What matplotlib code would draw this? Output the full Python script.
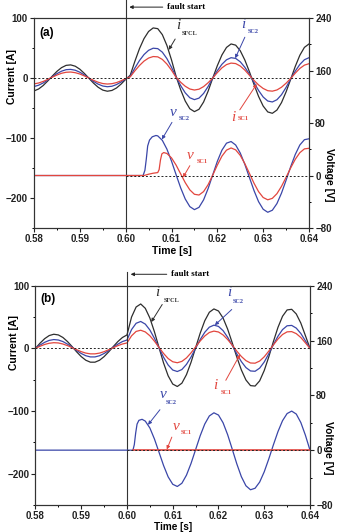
import numpy as np
import matplotlib
matplotlib.use('Agg')
import matplotlib.pyplot as plt
from matplotlib.ticker import MultipleLocator

plt.rcParams['font.family'] = 'Liberation Sans'
plt.rcParams['font.weight'] = 'bold'
plt.rcParams['axes.labelweight'] = 'bold'

t_fault = 0.60
t = np.arange(580, 641) / 1000.0   # sample times [s], 1 ms step

# ---- (a) currents [A], every 1 ms
i_sfcl_a = [-21.5, -18.3, -12.5, -4.9, 3.3, 11.1, 17.3, 21.1, 21.9, 19.7, 14.7, 7.6, -0.5, -8.6, -15.4, -20.1, -22.0, -20.7, -16.6, -10.1, -2.2,
            4.7, 27.7, 48.7, 65.7, 77.6, 83.5, 82.3, 72.3, 54.3, 30.2, 2.8,
            -19.6, -38.4, -51.2, -56.0, -52.1, -40.0, -21.7, 0.0,
            20.6, 38.4, 51.0, 56.8, 54.8, 45.5, 30.0, 10.5,
            -10.7, -30.7, -46.7, -56.5, -58.8, -53.4, -41.0, -23.1, -2.2,
            19.3, 37.9, 51.1, 56.8]
i_sc2_a = [-14.2, -12.0, -8.2, -3.3, 2.2, 7.3, 11.4, 13.9, 14.4, 13.0, 9.7, 5.0, -0.3, -5.7, -10.2, -13.3, -14.5, -13.7, -10.9, -6.7, -1.5,
           2.8, 16.5, 29.0, 39.1, 46.2, 49.7, 49.0, 43.1, 32.3, 18.0, 1.7,
           -12.6, -24.7, -32.9, -36.0, -33.5, -25.7, -14.0, 0.0,
           12.3, 22.9, 30.4, 33.9, 32.7, 27.1, 17.9, 6.3,
           -7.3, -20.8, -31.6, -38.3, -39.9, -36.2, -27.8, -15.6, -1.5,
           11.5, 22.6, 30.5, 33.9]
i_sc1_a = [-9.8, -8.3, -5.7, -2.3, 1.5, 5.0, 7.9, 9.6, 10.0, 8.9, 6.7, 3.5, -0.2, -3.9, -7.0, -9.2, -10.0, -9.4, -7.6, -4.6, -1.0,
           2.0, 11.9, 20.8, 28.2, 33.3, 35.8, 35.3, 31.0, 23.3, 13.0, 1.2,
           -7.0, -13.7, -18.3, -20.0, -18.6, -14.3, -7.8, 0.0,
           9.0, 16.9, 22.4, 24.9, 24.1, 20.0, 13.2, 4.6,
           -4.0, -11.5, -17.4, -21.1, -21.9, -19.9, -15.3, -8.6, -0.8,
           8.1, 16.0, 21.5, 23.9]

# ---- (a) voltages [V]
tv_sc2_a = [0.580, 0.6038, 0.6042, 0.6045, 0.6048, 0.6052, 0.6058, 0.6066] + list(np.arange(607, 641) / 1000.0)
v_sc2_a = [0, 0, 8, 25, 45, 54, 59, 61,
           60.4, 53.6, 40.2, 22.0, 1.3, -18.8, -35.8, -47.4, -52.0,
           -48.5, -37.1, -19.7, 1.1, 21.6, 38.6, 49.3,
           51.8, 46.5, 34.3, 17.0, -3.0, -22.9, -39.9, -51.4, -56.0,
           -52.9, -42.8, -26.8, -7.2, 13.4, 32.0, 46.5, 54.6, 56.0]
tv_sc1_a = [0.580, 0.6040, 0.605, 0.606, 0.607, 0.6073, 0.6076, 0.6079, 0.6083] + list(np.arange(609, 641) / 1000.0)
v_sc1_a = [0, 0, 2.0, 3.5, 4.5, 9, 24, 33, 35,
           33.6, 26.9, 15.9, 2.5, -10.9, -21.9, -28.6,
           -29.7, -24.5, -13.8, 0.6, 15.9, 29.5, 38.7, 42.0,
           39.1, 30.7, 18.1, 3.3, -11.7, -24.6, -33.5, -37.0,
           -34.8, -27.7, -16.5, -2.8, 11.6, 24.7, 34.8, 40.6, 41.5]

# ---- (b) currents [A]
i_sfcl_b = [0.0, 8.3, 15.4, 20.4, 22.5, 21.4, 17.3, 10.8, 2.8, -5.6, -13.2, -19.0, -22.1, -22.1, -19.0, -13.2, -5.6, 2.8, 10.8, 17.3, 21.4,
            50.0, 66.0, 70.8, 63.9, 48.4, 26.4, 1.2, -23.5, -43.9, -57.0,
            -60.9, -55.6, -42.0, -22.3, 1.0, 24.2, 44.0, 57.6, 62.9,
            59.6, 48.4, 30.7, 9.0, -13.8, -34.5, -50.5, -59.5,
            -60.2, -51.9, -35.4, -13.5, 10.7, 33.4, 51.2, 61.3,
            62.3, 54.9, 40.3, 20.3, 0.0]
i_sc2_b = [0.0, 5.2, 9.6, 12.7, 14.0, 13.3, 10.8, 6.7, 1.8, -3.5, -8.2, -11.8, -13.7, -13.7, -11.8, -8.2, -3.5, 1.8, 6.7, 10.8, 13.3,
           30.0, 40.0, 42.9, 38.7, 29.3, 16.0, 0.7, -14.3, -26.6, -34.6,
           -37.0, -33.8, -25.6, -13.9, 0.0, 13.9, 25.6, 33.8, 37.0,
           35.0, 28.3, 17.7, 4.8, -8.8, -21.2, -30.7, -36.1,
           -36.6, -31.6, -21.8, -8.6, 5.8, 19.3, 29.9, 36.0,
           36.6, 32.3, 23.7, 11.9, 0.0]
i_sc1_b = [0.0, 3.3, 6.2, 8.1, 9.0, 8.6, 6.9, 4.3, 1.1, -2.2, -5.3, -7.6, -8.8, -8.8, -7.6, -5.3, -2.2, 1.1, 4.3, 6.9, 8.6,
           20.0, 27.0, 28.9, 26.2, 20.1, 11.4, 1.5, -8.2, -16.3, -21.4,
           -23.0, -20.8, -15.3, -7.2, 2.3, 11.7, 19.7, 25.3, 27.5,
           26.1, 21.4, 14.1, 5.1, -4.4, -13.0, -19.6, -23.4,
           -23.7, -20.3, -13.5, -4.4, 5.5, 14.8, 22.1, 26.3,
           26.7, 23.5, 17.3, 8.7, 0.0]

# ---- (b) voltages [V]
tv_sc2_b = [0.580, 0.6013, 0.6016, 0.6019, 0.6022, 0.6026, 0.6033] + list(np.arange(604, 641) / 1000.0)
v_sc2_b = [0, 0, 8, 25, 38, 43.5, 45,
           42.4, 32.4, 16.3, -3.0, -22.5, -39.0, -49.8,
           -53.0, -48.3, -36.5, -19.4, 0.8, 21.0, 38.1, 49.9, 54.5,
           51.2, 40.0, 22.6, 1.6, -19.9, -38.7, -52.0, -57.8,
           -55.6, -46.6, -31.6, -12.7, 7.7, 27.0, 43.0, 53.4, 57.0,
           52.7, 40.3, 21.8, 0.0]
tv_sc1_b = [0.6013, 0.640]
v_sc1_b = [0, 0]

c_blk = '#2e2e2e'
c_blue = '#3a46a8'
c_red = '#e2463e'
lw = 0.9

fig = plt.figure(figsize=(3.38, 5.32), dpi=100)


def style_axes(ax, ax2):
    ax.set_xlim(0.58, 0.64)
    ax.set_ylim(-250, 100)
    ax2.set_ylim(-80, 240)
    ax.set_xticks([0.58, 0.59, 0.60, 0.61, 0.62, 0.63, 0.64])
    ax.set_xticklabels(['0.58', '0.59', '0.60', '0.61', '0.62', '0.63', '0.64'])
    ax.xaxis.set_minor_locator(MultipleLocator(0.005))
    ax.set_yticks([100, 0, -100, -200])
    ax.yaxis.set_minor_locator(MultipleLocator(50))
    ax2.set_yticks([240, 160, 80, 0, -80])
    ax2.yaxis.set_minor_locator(MultipleLocator(40))
    for a in (ax, ax2):
        a.tick_params(which='major', direction='out', length=3, width=0.8, pad=1.5, labelsize=7, colors='#222222')
        a.tick_params(which='minor', direction='out', length=1.6, width=0.7)
        for s in a.spines.values():
            s.set_linewidth(0.8)
            s.set_color('#333333')


def tag(ax, sym, sub, p_sym, p_sub, tail, tip, color):
    ax.text(p_sym[0], p_sym[1], sym, family='Liberation Serif', style='italic', weight='normal',
            fontsize=11, color=color, ha='center', va='center')
    ax.text(p_sub[0], p_sub[1], sub, family='Liberation Serif', weight='bold',
            fontsize=4.5, color=color, ha='center', va='center')
    ax.annotate('', xy=tip, xytext=tail,
                arrowprops=dict(arrowstyle='-|>', color=color, lw=0.7, mutation_scale=5, shrinkA=0, shrinkB=0))


# ================= (a)
ax = fig.add_axes([0.1006, 0.5714, 0.8136, 0.3947])
ax2 = ax.twinx()
style_axes(ax, ax2)

ax.plot(t, i_sfcl_a, color=c_blk, lw=lw)
ax.plot(t, i_sc2_a, color=c_blue, lw=lw)
ax.plot(t, i_sc1_a, color=c_red, lw=lw)
ax.axhline(0, color='#222222', lw=0.7, ls=(0, (2, 2)), zorder=3)
ax2.plot(tv_sc2_a, v_sc2_a, color=c_blue, lw=lw)
ax2.plot(tv_sc1_a, v_sc1_a, color=c_red, lw=lw)
ax2.hlines(0, t_fault, 0.64, color='#222222', lw=0.7, linestyles=(0, (2, 2)), zorder=3)
ax.axvline(t_fault, ymin=0, ymax=1.086, color='#333333', lw=0.8, clip_on=False)

ax.annotate('fault start', xy=(0.6008, 1.052), xycoords=('data', 'axes fraction'),
            xytext=(0.6090, 1.052), textcoords=('data', 'axes fraction'),
            ha='left', va='center', family='Liberation Serif', fontsize=6.5, weight='bold',
            arrowprops=dict(arrowstyle='-|>', color='#222222', lw=0.7, mutation_scale=5, shrinkA=1, shrinkB=0))

ax.text(0.018, 0.929, '(a)', transform=ax.transAxes, fontsize=8.5, ha='left', va='center')
ax.set_ylabel('Current [A]', fontsize=7.5, va='center')
ax.yaxis.set_label_coords(-0.08, 0.72)
ax.set_xlabel('Time [s]', fontsize=7.5, va='center')
ax.xaxis.set_label_coords(0.5, -0.11)
ax2.set_ylabel('Voltage [V]', fontsize=7.5, rotation=270, va='center')
ax2.yaxis.set_label_coords(1.073, 0.252)

tag(ax, 'i', 'SFCL', (0.6114, 88), (0.6140, 74), (0.6108, 65), (0.6094, 47), c_blk)
tag(ax, 'i', 'SC2', (0.6256, 90), (0.6278, 78), (0.6260, 68), (0.6239, 33), c_blue)
tag(ax, 'i', 'SC1', (0.6234, -65), (0.6256, -68), (0.6249, -53), (0.6286, -10), c_red)
tag(ax2, 'v', 'SC2', (0.6103, 96), (0.6127, 87), (0.6101, 81), (0.6079, 55), c_blue)
tag(ax2, 'v', 'SC1', (0.6140, 30), (0.6167, 21), (0.6140, 15), (0.6125, -3), c_red)

# ================= (b)
ax = fig.add_axes([0.105, 0.0508, 0.8121, 0.4122])
ax2 = ax.twinx()
style_axes(ax, ax2)

ax.plot(t, i_sfcl_b, color=c_blk, lw=lw)
ax.plot(t, i_sc2_b, color=c_blue, lw=lw)
ax.plot(t, i_sc1_b, color=c_red, lw=lw)
ax.axhline(0, color='#222222', lw=0.7, ls=(0, (2, 2)), zorder=3)
ax2.plot(tv_sc2_b, v_sc2_b, color=c_blue, lw=lw)
ax2.plot(tv_sc1_b, v_sc1_b, color=c_red, lw=1.2)
ax2.hlines(0, t_fault, 0.64, color='#222222', lw=0.7, linestyles=(0, (2, 2)), zorder=3)
ax.axvline(t_fault, ymin=0, ymax=1.062, color='#333333', lw=0.8, clip_on=False)

ax.annotate('fault start', xy=(0.6008, 1.052), xycoords=('data', 'axes fraction'),
            xytext=(0.6096, 1.052), textcoords=('data', 'axes fraction'),
            ha='left', va='center', family='Liberation Serif', fontsize=6.5, weight='bold',
            arrowprops=dict(arrowstyle='-|>', color='#222222', lw=0.7, mutation_scale=5, shrinkA=1, shrinkB=0))

ax.text(0.018, 0.94, '(b)', transform=ax.transAxes, fontsize=8.5, ha='left', va='center')
ax.set_ylabel('Current [A]', fontsize=7.5, va='center')
ax.yaxis.set_label_coords(-0.078, 0.741)
ax.set_xlabel('Time [s]', fontsize=7.2, va='center')
ax.xaxis.set_label_coords(0.5, -0.100)
ax2.set_ylabel('Voltage [V]', fontsize=7.5, rotation=270, va='center')
ax2.yaxis.set_label_coords(1.066, 0.262)

tag(ax, 'i', 'SFCL', (0.6066, 89), (0.6098, 76), (0.6077, 70), (0.6053, 42), c_blk)
tag(ax, 'i', 'SC2', (0.6223, 89), (0.6243, 75), (0.6229, 62), (0.6192, 37), c_blue)
tag(ax, 'i', 'SC1', (0.6192, -60), (0.6216, -71), (0.6216, -51), (0.6247, -10), c_red)
tag(ax2, 'v', 'SC2', (0.6079, 81), (0.6096, 69), (0.6072, 59), (0.6046, 37), c_blue)
tag(ax2, 'v', 'SC1', (0.6107, 35), (0.6129, 26), (0.6098, 19), (0.6087, 1), c_red)

fig.savefig('out.png', dpi=100)
